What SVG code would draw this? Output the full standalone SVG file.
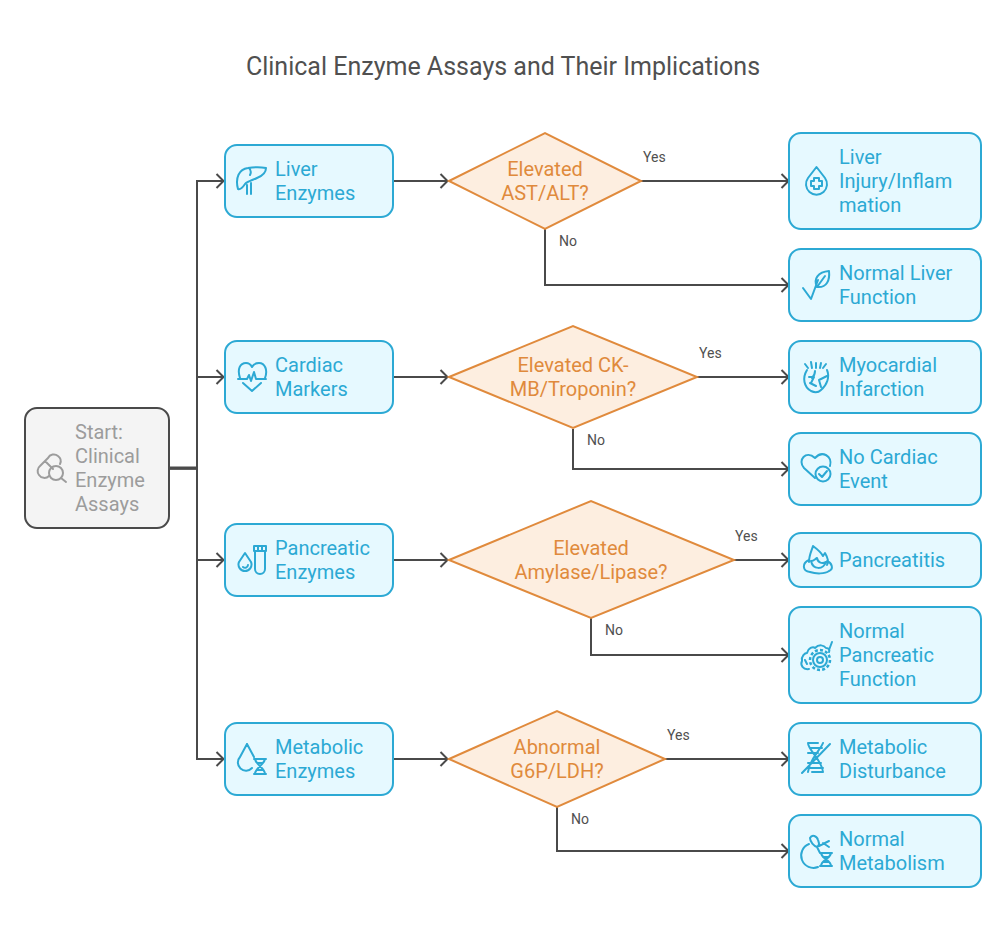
<svg xmlns="http://www.w3.org/2000/svg" width="1006" height="936" viewBox="0 0 1006 936">
<defs>
<style>
text{font-family:Roboto,"Liberation Sans",sans-serif}
.t{font-size:25px;fill:#505050}
.l{font-size:14px;fill:#505050}
.bx{fill:#e6f9ff;stroke:#2ca9d4;stroke-width:2}
.bt{font-size:20px;fill:#2ca9d4}
.d{fill:#fdeee0;stroke:#e08a3c;stroke-width:2}
.dt{font-size:20px;fill:#e08a3c;text-anchor:middle}
.ic{fill:none;stroke:#2ca9d4;stroke-width:2;stroke-linecap:round;stroke-linejoin:round}
.c{fill:none;stroke:#4a4a4a;stroke-width:2}
</style>
<marker id="a" viewBox="0 0 10 16" markerWidth="10" markerHeight="16" refX="9" refY="8" orient="auto" markerUnits="userSpaceOnUse"><path d="M1.5 1L8.5 8L1.5 15" fill="none" stroke="#4a4a4a" stroke-width="2"/></marker>
</defs>
<rect width="1006" height="936" fill="#fff"/>
<text class="t" x="503" y="75" text-anchor="middle">Clinical Enzyme Assays and Their Implications</text>
<g id="connectors">
<path class="c" d="M170 467.5H197V181H224" marker-end="url(#a)"/>
<path class="c" d="M170 468.5H197V377H224" marker-end="url(#a)"/>
<path class="c" d="M170 468.5H197V560H224" marker-end="url(#a)"/>
<path class="c" d="M170 468.5H197V759H224" marker-end="url(#a)"/>
<path class="c" d="M393 181H448" marker-end="url(#a)"/>
<path class="c" d="M393 377H448" marker-end="url(#a)"/>
<path class="c" d="M393 560H448" marker-end="url(#a)"/>
<path class="c" d="M393 759H448" marker-end="url(#a)"/>
<path class="c" d="M641 181H789" marker-end="url(#a)"/>
<path class="c" d="M545 229V285H789" marker-end="url(#a)"/>
<path class="c" d="M697 377H789" marker-end="url(#a)"/>
<path class="c" d="M573 429V469H789" marker-end="url(#a)"/>
<path class="c" d="M734 560H789" marker-end="url(#a)"/>
<path class="c" d="M591 618V655H789" marker-end="url(#a)"/>
<path class="c" d="M665 759H789" marker-end="url(#a)"/>
<path class="c" d="M557 807V851H789" marker-end="url(#a)"/>
</g>
<g id="edge-labels">
<text class="l" x="643" y="162">Yes</text>
<text class="l" x="559" y="246">No</text>
<text class="l" x="699" y="358">Yes</text>
<text class="l" x="587" y="445">No</text>
<text class="l" x="735" y="541">Yes</text>
<text class="l" x="605" y="635">No</text>
<text class="l" x="667" y="740">Yes</text>
<text class="l" x="571" y="824">No</text>
</g>
<g id="start">
<rect x="25" y="408" width="144" height="120" rx="12" fill="#f4f4f4" stroke="#4a4a4a" stroke-width="2"/>
<g fill="none" stroke="#9c9c9c" stroke-width="2" stroke-linecap="round" stroke-linejoin="round">
<path d="M48 458L40 466A6.5 6.5 0 0 0 39 475A6.5 6.5 0 0 0 49 476M48 458A6.5 6.5 0 0 1 58 456A6.5 6.5 0 0 1 60 464M45 461L53 469"/>
<circle cx="56" cy="473" r="7"/><path d="M61 478L66 482"/>
</g>
<text x="75" y="439" font-size="20" fill="#9c9c9c">Start:</text>
<text x="75" y="463" font-size="20" fill="#9c9c9c">Clinical</text>
<text x="75" y="487" font-size="20" fill="#9c9c9c">Enzyme</text>
<text x="75" y="511" font-size="20" fill="#9c9c9c">Assays</text>
</g>
<g id="liver-enzymes">
<rect class="bx" x="225" y="145" width="168" height="72" rx="12"/>
<path class="ic" d="M238 189C235 178 239 169 248 168C254 167 261 167 266 168C266 173 262 176 257 178C253 180 248 181 245 184C243 187 241 190 238 189ZM249 168C251 170 251 173 250 175M247 194V185M251 194V183"/>
<text class="bt" x="275" y="176">Liver</text><text class="bt" x="275" y="200">Enzymes</text>
</g>
<g id="cardiac-markers">
<rect class="bx" x="225" y="341" width="168" height="72" rx="12"/>
<path class="ic" d="M240 378C237 369 240 363 246 363C249 363 251 365 252 367C253 365 256 363 259 363C265 363 268 370 265 378M238 379H247L249 375L251 381L254 372L256 379H266M243 383L252 391L261 383"/>
<text class="bt" x="275" y="372">Cardiac</text><text class="bt" x="275" y="396">Markers</text>
</g>
<g id="pancreatic-enzymes">
<rect class="bx" x="225" y="524" width="168" height="72" rx="12"/>
<path class="ic" d="M245 553L239 562A6.5 6.5 0 1 0 251 562ZM243 567A3 3 0 0 0 248 565M254 546H266V551H254ZM255 551V569A4.5 4.5 0 0 0 265 569V551M258 546V551M262 546V551"/>
<text class="bt" x="275" y="555">Pancreatic</text><text class="bt" x="275" y="579">Enzymes</text>
</g>
<g id="metabolic-enzymes">
<rect class="bx" x="225" y="723" width="168" height="72" rx="12"/>
<path class="ic" d="M247 744L240 757A8 8 0 0 0 252 768M247 744L254 757M254 759H266M254 774H266M255 759C256 765 265 768 265 774M265 759C264 765 255 768 255 774M257 763H263M257 770H263"/>
<text class="bt" x="275" y="754">Metabolic</text><text class="bt" x="275" y="778">Enzymes</text>
</g>
<g id="q-liver">
<polygon class="d" points="449,181 545,133 641,181 545,229"/>
<text class="dt" x="545" y="176">Elevated</text><text class="dt" x="545" y="200">AST/ALT?</text>
</g>
<g id="q-cardiac">
<polygon class="d" points="449,377 573,326 697,377 573,428"/>
<text class="dt" x="573" y="372">Elevated CK-</text><text class="dt" x="573" y="396">MB/Troponin?</text>
</g>
<g id="q-pancreatic">
<polygon class="d" points="449,560 591,501 734,560 591,618"/>
<text class="dt" x="591" y="555">Elevated</text><text class="dt" x="591" y="579">Amylase/Lipase?</text>
</g>
<g id="q-metabolic">
<polygon class="d" points="449,759 557,711 665,759 557,807"/>
<text class="dt" x="557" y="754">Abnormal</text><text class="dt" x="557" y="778">G6P/LDH?</text>
</g>
<g id="liver-injury">
<rect class="bx" x="789" y="133" width="192" height="96" rx="12"/>
<path class="ic" d="M816.5 167L808 178A10.5 10.5 0 1 0 825 178ZM814 178H819V181H822V186H819V189H814V186H811V181H814Z"/>
<text class="bt" x="839" y="164">Liver</text><text class="bt" x="839" y="188">Injury/Inflam</text><text class="bt" x="839" y="212">mation</text>
</g>
<g id="normal-liver">
<rect class="bx" x="789" y="249" width="192" height="72" rx="12"/>
<path class="ic" d="M803 288L811 299L818 280M817 287C813 279 818 272 829 271C830 280 827 288 817 287ZM817 287L825 276"/>
<text class="bt" x="839" y="280">Normal Liver</text><text class="bt" x="839" y="304">Function</text>
</g>
<g id="myocardial">
<rect class="bx" x="789" y="341" width="192" height="72" rx="12"/>
<path class="ic" d="M805 364L808 368M811 362L812 368M816 363L816 368M821 363L820 368M826 364L823 368M807 370C802 378 804 387 811 391C815 393 818 393 821 390C827 385 830 377 827 370M809 377H814L811 383M815 371C815 374 814 376 812 378M827 376L819 380L821 387M810 383L816 386"/>
<text class="bt" x="839" y="372">Myocardial</text><text class="bt" x="839" y="396">Infarction</text>
</g>
<g id="no-cardiac">
<rect class="bx" x="789" y="433" width="192" height="72" rx="12"/>
<path class="ic" d="M815 478L804 468C797 460 806 450 815 458C822 450 833 456 830 466M819 474L822 477L827 471"/><circle class="ic" cx="823" cy="474" r="7.5"/>
<text class="bt" x="839" y="464">No Cardiac</text><text class="bt" x="839" y="488">Event</text>
</g>
<g id="pancreatitis">
<rect class="bx" x="789" y="533" width="192" height="54" rx="12"/>
<path class="ic" d="M809 562C809 555 812 550 813 546C817 549 821 552 823 556L825 553C828 558 829 562 827 565M809 560C802 563 802 571 810 572C816 574 825 574 829 571C834 569 832 563 827 561M811 561C813 570 823 570 826 562C822 564 818 563 817 558C815 559 814 561 811 561Z"/>
<text class="bt" x="839" y="567">Pancreatitis</text>
</g>
<g id="normal-pancreatic">
<rect class="bx" x="789" y="607" width="192" height="96" rx="12"/>
<path class="ic" d="M809 669C803 670 800 665 802 661C801 656 805 653 807 653C808 648 813 646 815 648C819 644 824 645 826 648C829 648 830 650 829 652M829 650L832 642M805 660L807 664"/><circle class="ic" cx="820" cy="660" r="7"/><circle class="ic" cx="820" cy="660" r="3"/><circle cx="820" cy="660" r="10" fill="none" stroke="#2ca9d4" stroke-width="2.5" stroke-dasharray="3 2.2"/>
<text class="bt" x="839" y="638">Normal</text><text class="bt" x="839" y="662">Pancreatic</text><text class="bt" x="839" y="686">Function</text>
</g>
<g id="metabolic-disturbance">
<rect class="bx" x="789" y="723" width="192" height="72" rx="12"/>
<path class="ic" d="M802 773L830 744M808 743C808 750 822 760 823 772M823 743C821 749 809 760 808 772M808 743H818M811 748H822M808 753H818M808 763H821M808 768H823M812 772H823"/>
<text class="bt" x="839" y="754">Metabolic</text><text class="bt" x="839" y="778">Disturbance</text>
</g>
<g id="normal-metabolism">
<rect class="bx" x="789" y="815" width="192" height="72" rx="12"/>
<path class="ic" d="M809 844A12 12 0 1 0 818 867M810 838C812 834 817 836 818 840C819 843 820 845 817 847C814 846 810 842 810 838ZM817 847L820 853M819 846L829 841M823 843L829 847M820 853H832M820 866H832M821 853C822 859 831 860 831 866M831 853C830 859 821 860 821 866M823 857H829M823 862H829"/>
<text class="bt" x="839" y="846">Normal</text><text class="bt" x="839" y="870">Metabolism</text>
</g>
</svg>
